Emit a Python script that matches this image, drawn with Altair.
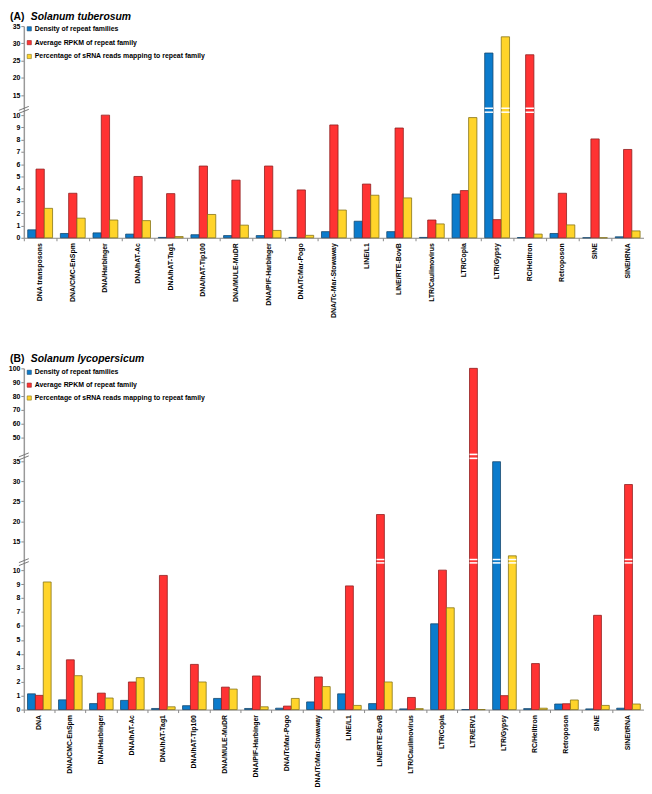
import altair as alt
import pandas as pd

FONT = "Liberation Sans"
SERIES = ["Density of repeat families",
          "Average RPKM of repeat family",
          "Percentage of sRNA reads mapping to repeat family"]
FILL = ["#0b7bcc", "#ff3333", "#ffd42a"]
EDGE = ["#17486f", "#8f1f1f", "#857318"]

# ---------------- Panel A : Solanum tuberosum ----------------
cats_a = ["DNA transposons", "DNA/CMC-EnSpm", "DNA/Harbinger", "DNA/hAT-Ac", "DNA/hAT-Tag1",
          "DNA/hAT-Tip100", "DNA/MULE-MuDR", "DNA/PIF-Harbinger", "DNA/TcMar-Pogo",
          "DNA/Tc-Mar-Stowaway", "LINE/L1", "LINE/RTE-BovB", "LTR/Caulimovirus", "LTR/Copia",
          "LTR/Gypsy", "RC/Helitron", "Retroposon", "SINE", "SINE/tRNA"]
density_a = [0.65, 0.35, 0.4, 0.3, 0.03, 0.25, 0.18, 0.18, 0.03, 0.5, 1.35, 0.5, 0.03, 3.57,
             27.2, 0.02, 0.35, 0.0, 0.08]
rpkm_a = [5.6, 3.63, 10.0, 5.0, 3.6, 5.85, 4.7, 5.85, 3.9, 9.2, 4.38, 8.95, 1.45, 3.85,
          1.48, 26.7, 3.63, 8.06, 7.2]
srna_a = [2.4, 1.6, 1.45, 1.4, 0.1, 1.9, 1.03, 0.6, 0.2, 2.26, 3.47, 3.25, 1.13, 9.8,
          31.9, 0.3, 1.05, 0.0, 0.56]
ticks_a = [0, 1, 2, 3, 4, 5, 6, 7, 8, 9, 10, 15, 20, 25, 30, 35]

# ---------------- Panel B : Solanum lycopersicum ----------------
cats_b = ["DNA", "DNA/CMC-EnSpm", "DNA/Harbinger", "DNA/hAT-Ac", "DNA/hAT-Tag1",
          "DNA/hAT-Tip100", "DNA/MULE-MuDR", "DNA/PIF-Harbinger", "DNA/TcMar-Pogo",
          "DNA/TcMar-Stowaway", "LINE/L1", "LINE/RTE-BovB", "LTR/Caulimovirus", "LTR/Copia",
          "LTR/ERV1", "LTR/Gypsy", "RC/Helitron", "Retroposon", "SINE", "SINE/tRNA"]
density_b = [1.13, 0.7, 0.43, 0.66, 0.08, 0.28, 0.8, 0.08, 0.1, 0.55, 1.13, 0.43, 0.05, 6.15,
             0.0, 34.9, 0.07, 0.4, 0.05, 0.1]
rpkm_b = [1.02, 3.57, 1.18, 1.98, 9.62, 3.24, 1.61, 2.41, 0.25, 2.34, 8.87, 21.7, 0.87, 10.0,
          100.0, 1.0, 3.3, 0.42, 6.76, 29.2]
srna_b = [9.15, 2.43, 0.83, 2.29, 0.2, 1.98, 1.47, 0.2, 0.8, 1.65, 0.3, 1.98, 0.07, 7.3,
          0.0, 11.7, 0.1, 0.69, 0.3, 0.4]
ticks_b = [0, 1, 2, 3, 4, 5, 6, 7, 8, 9, 10, 15, 20, 25, 30, 35, 50, 60, 70, 80, 90, 100]

BREAK_SHAPE = "M-1,0.1L1,-0.7M-1,0.7L1,-0.1"
W = 627


def panel(cats, dens, rpkm, srna, letter, species, height, ydomain, yrange, yticks,
          bar_breaks, axis_breaks, legend_y, row_pad):
    rows = []
    for c, a, b, s in zip(cats, dens, rpkm, srna):
        for name, v in zip(SERIES, (a, b, s)):
            rows.append({"cat": c, "series": name, "value": v})
    df = pd.DataFrame(rows)
    brk_rows = []
    for thresh, pairs in bar_breaks:
        for r in rows:
            if r["value"] > thresh:
                for lo, hi in pairs:
                    brk_rows.append({"cat": r["cat"], "series": r["series"], "lo": lo, "hi": hi})
    brk_df = pd.DataFrame(brk_rows)

    xenc = alt.X("cat:N", sort=cats, title=None,
                 scale=alt.Scale(domain=cats, paddingInner=0, paddingOuter=0),
                 axis=alt.Axis(labelAngle=-90, bandPosition=0,
                               tickSize=3, tickColor="#888", domainColor="#888", domainWidth=1,
                               labelFontSize=7, labelFontWeight="bold", labelColor="#000",
                               labelPadding=2, labelFont=FONT, labelOverlap=False, labelLimit=0))
    xoff = alt.XOffset("series:N", sort=SERIES,
                       scale=alt.Scale(domain=SERIES, paddingInner=0, paddingOuter=0.47))
    yscale = alt.Scale(domain=ydomain, range=yrange, nice=False, zero=False)
    yaxis = alt.Axis(values=yticks, title=None, grid=False, tickSize=3, tickColor="#888",
                     domainColor="#999", domainWidth=1.5, labelFontSize=7, labelFontWeight="bold",
                     labelColor="#000", labelPadding=1, labelFont=FONT, labelOverlap=False)

    bars = alt.Chart(df).mark_bar(strokeWidth=0.8).encode(
        x=xenc, xOffset=xoff,
        y=alt.Y("value:Q", scale=yscale, axis=yaxis),
        color=alt.Color("series:N", sort=SERIES, scale=alt.Scale(domain=SERIES, range=FILL),
                        legend=alt.Legend(title=None, orient="none", legendX=2, legendY=legend_y,
                                          symbolType="square", symbolSize=18,
                                          symbolStrokeColor="#333", symbolStrokeWidth=0.6,
                                          labelFontSize=7, labelFontWeight="bold", labelFont=FONT,
                                          labelColor="#000", rowPadding=row_pad, labelOffset=2,
                                          padding=0, labelLimit=0)),
        stroke=alt.Stroke("series:N", scale=alt.Scale(domain=SERIES, range=EDGE), legend=None),
    )
    brk = alt.Chart(brk_df).mark_bar(color="white", strokeWidth=0.6).encode(
        x=xenc, xOffset=xoff,
        y=alt.Y("lo:Q", scale=yscale, axis=yaxis), y2="hi:Q")
    ab = alt.Chart(pd.DataFrame({"v": axis_breaks})).mark_point(
        shape=BREAK_SHAPE, filled=False, size=100, stroke="#777", strokeWidth=1, opacity=1
    ).encode(x=alt.value(0), y=alt.Y("v:Q", scale=yscale, axis=yaxis))
    t1 = alt.Chart(pd.DataFrame({"t": [letter]})).mark_text(
        align="left", baseline="top", fontSize=10.5, fontWeight="bold", font=FONT, color="#000"
    ).encode(x=alt.value(-14), y=alt.value(-14), text="t:N")
    t2 = alt.Chart(pd.DataFrame({"t": [species]})).mark_text(
        align="left", baseline="top", fontSize=10.5, fontWeight="bold", fontStyle="italic",
        font=FONT, color="#000"
    ).encode(x=alt.value(7), y=alt.value(-14), text="t:N")
    return alt.layer(bars, brk, ab, t1, t2).properties(width=W, height=height)


panel_a = panel(cats_a, density_a, rpkm_a, srna_a, "(A)", "Solanum tuberosum", 214,
                [0, 10, 11.5, 35], [214, 90, 82, 0], ticks_a,
                [(11.5, [(10.42, 10.7), (11.17, 11.45)])], [11.0], -0.8, 6)
panel_b = panel(cats_b, density_b, rpkm_b, srna_b, "(B)", "Solanum lycopersicum", 345,
                [0, 10, 12, 35, 40, 100], [345, 204, 187, 94, 84, 0], ticks_b,
                [(11.4, [(10.77, 10.95), (11.17, 11.35)]),
                 (40, [(36.1, 36.9), (38.1, 38.9)])], [10.95, 37.5], 0.5, 5)

chart = alt.vconcat(panel_a, panel_b, spacing=132, bounds="flush").resolve_scale(
    x="independent", y="independent", xOffset="independent",
    color="independent", stroke="independent"
).properties(padding=0).configure_view(stroke=None)

chart.save("out.html", embed_options={"renderer": "svg", "actions": False})
